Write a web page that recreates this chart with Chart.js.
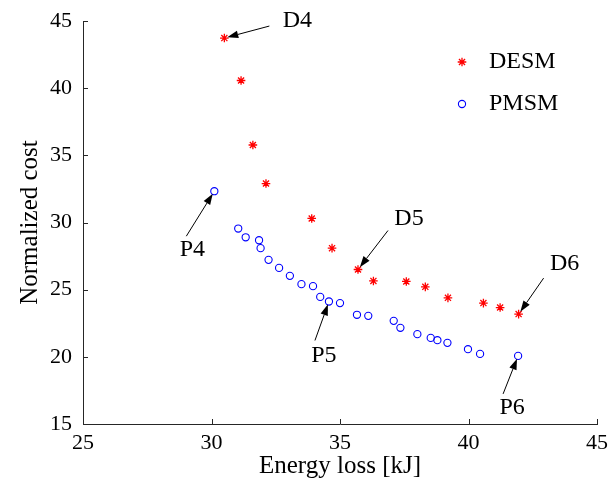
<!DOCTYPE html>
<html>
<head>
<meta charset="utf-8">
<script src="https://cdn.jsdelivr.net/npm/chart.js@4/dist/chart.umd.min.js"></script>
<style>
html,body{margin:0;padding:0;background:#fff;}
#wrap{width:613px;height:486px;}
</style>
</head>
<body>
<div id="wrap"><canvas id="c" width="613" height="486"></canvas></div>
<script>
// ---- data ----
const seriesNames = ['DESM', 'PMSM'];
const desmX = [30.50, 31.15, 31.61, 32.12, 33.90, 34.69, 35.70, 36.30, 37.58, 38.32, 39.20, 40.58, 41.23, 41.95];
const desmY = [43.73, 40.57, 35.77, 32.90, 30.30, 28.09, 26.50, 25.65, 25.61, 25.21, 24.39, 24.00, 23.67, 23.18];
const pmsmX = [30.11, 31.04, 31.33, 31.85, 31.91, 32.22, 32.63, 33.05, 33.50, 33.95, 34.23, 34.57, 35.00, 35.66, 36.10, 37.09, 37.35, 38.01, 38.53, 38.79, 39.18, 39.98, 40.45, 41.93];
const pmsmY = [32.33, 29.55, 28.90, 28.68, 28.09, 27.22, 26.62, 26.03, 25.41, 25.26, 24.46, 24.12, 24.00, 23.13, 23.05, 22.68, 22.16, 21.69, 21.41, 21.24, 21.04, 20.57, 20.22, 20.07];
const xTicks = [25, 30, 35, 40, 45];
const yTicks = [15, 20, 25, 30, 35, 40, 45];
const xTitle = 'Energy loss [kJ]';
const yTitle = 'Normalized cost';
// annotated points: label, series index, point index
const annLabels = ['D4', 'P4', 'D5', 'P5', 'D6', 'P6'];
const annSeries = [0, 1, 0, 1, 0, 1];
const annIndex  = [0, 0, 6, 11, 13, 23];

const FONT = "'Liberation Serif', 'Times New Roman', serif";
const AXIS_COLOR = '#262626';

function toPts(xs, ys) { return xs.map((x, i) => ({x: x, y: ys[i]})); }

// pixel offsets (layout only) for annotation text and arrow tails
const annLayout = {
  D4: {tx: 73, ty: -17, ax: 45, ay: -12},
  P4: {tx: -22, ty: 59, ax: -28, ay: 45},
  D5: {tx: 51, ty: -51, ax: 30, ay: -39},
  P5: {tx: -5, ty: 54, ax: -14, ay: 39},
  D6: {tx: 46, ty: -50, ax: 25, ay: -36},
  P6: {tx: -6, ty: 52, ax: -15, ay: 38}
};

const inwardTicks = {
  id: 'inwardTicks',
  afterDraw(chart) {
    const ctx = chart.ctx;
    const xs = chart.scales.x, ys = chart.scales.y;
    const ca = chart.chartArea;
    ctx.save();
    ctx.strokeStyle = AXIS_COLOR;
    ctx.lineWidth = 1;
    ctx.beginPath();
    xs.ticks.forEach(t => {
      const px = Math.round(xs.getPixelForValue(t.value)) + 0.5;
      ctx.moveTo(px, ca.bottom);
      ctx.lineTo(px, ca.bottom - 5);
    });
    ys.ticks.forEach(t => {
      const py = Math.round(ys.getPixelForValue(t.value)) + 0.5;
      ctx.moveTo(ca.left, py);
      ctx.lineTo(ca.left + 5, py);
    });
    ctx.stroke();
    ctx.restore();
  }
};

const annotations = {
  id: 'annotations',
  afterDraw(chart) {
    const ctx = chart.ctx;
    ctx.save();
    annLabels.forEach((lab, k) => {
      const el = chart.getDatasetMeta(annSeries[k]).data[annIndex[k]];
      const px = el.x, py = el.y;
      const L = annLayout[lab];
      const sx = px + L.ax, sy = py + L.ay;
      const dx = px - sx, dy = py - sy;
      const len = Math.hypot(dx, dy);
      const ux = dx / len, uy = dy / len;
      const tipX = px - ux * 3, tipY = py - uy * 3;
      const headLen = 11, headW = 3.8;
      const bx = tipX - ux * headLen, by = tipY - uy * headLen;
      ctx.strokeStyle = '#000';
      ctx.fillStyle = '#000';
      ctx.lineWidth = 1;
      ctx.beginPath();
      ctx.moveTo(sx, sy);
      ctx.lineTo(bx, by);
      ctx.stroke();
      ctx.beginPath();
      ctx.moveTo(tipX, tipY);
      ctx.lineTo(bx - uy * headW, by + ux * headW);
      ctx.lineTo(bx + uy * headW, by - ux * headW);
      ctx.closePath();
      ctx.fill();
      ctx.font = '24px ' + FONT;
      ctx.textAlign = 'center';
      ctx.textBaseline = 'middle';
      ctx.fillText(lab, px + L.tx, py + L.ty);
    });
    ctx.restore();
  }
};

const customLegend = {
  id: 'customLegend',
  afterDraw(chart) {
    const ctx = chart.ctx;
    ctx.save();
    chart.data.datasets.forEach((ds, i) => {
      const y = 62 + i * 42;
      ctx.strokeStyle = ds.borderColor;
      ctx.fillStyle = 'rgba(0,0,0,0)';
      ctx.lineWidth = ds.borderWidth;
      Chart.helpers.drawPoint(ctx, {pointStyle: ds.pointStyle, radius: ds.pointRadius, borderWidth: ds.borderWidth, rotation: 0}, 462, y);
      ctx.fillStyle = '#000';
      ctx.font = '24px ' + FONT;
      ctx.textAlign = 'left';
      ctx.textBaseline = 'middle';
      ctx.fillText(ds.label, 489, y);
    });
    ctx.restore();
  }
};

new Chart(document.getElementById('c'), {
  type: 'scatter',
  data: {
    datasets: [
      {label: seriesNames[0], data: toPts(desmX, desmY), pointStyle: 'star', pointRadius: 4.3,
       borderColor: '#ff0000', backgroundColor: '#ff0000', borderWidth: 1.3, showLine: false},
      {label: seriesNames[1], data: toPts(pmsmX, pmsmY), pointStyle: 'circle', pointRadius: 3.6,
       borderColor: '#0000ff', backgroundColor: 'rgba(0,0,0,0)', borderWidth: 1.1, showLine: false}
    ]
  },
  options: {
    responsive: false,
    animation: false,
    devicePixelRatio: 1,
    layout: {padding: {top: 21, right: 16, left: 0, bottom: 0}},
    plugins: {legend: {display: false}, tooltip: {enabled: false}},
    elements: {point: {hoverRadius: 4}},
    scales: {
      x: {
        type: 'linear', min: xTicks[0], max: xTicks[xTicks.length - 1],
        afterBuildTicks: s => { s.ticks = xTicks.map(v => ({value: v})); },
        afterFit: s => { s.height = 62; s.paddingLeft = 0; s.paddingRight = 0; },
        grid: {display: true, drawOnChartArea: false, drawTicks: false},
        border: {display: true, color: AXIS_COLOR, width: 1},
        ticks: {color: '#000', font: {family: FONT, size: 22}, padding: 6, maxRotation: 0},
        title: {display: true, text: xTitle, color: '#000', font: {family: FONT, size: 25}, padding: {top: 0, bottom: 5}}
      },
      y: {
        type: 'linear', min: yTicks[0], max: yTicks[yTicks.length - 1],
        afterBuildTicks: s => { s.ticks = yTicks.map(v => ({value: v})); },
        afterFit: s => { s.width = 83; s.paddingTop = 0; s.paddingBottom = 0; },
        grid: {display: true, drawOnChartArea: false, drawTicks: false},
        border: {display: true, color: AXIS_COLOR, width: 1},
        ticks: {color: '#000', font: {family: FONT, size: 22}, padding: 11},
        title: {display: true, text: yTitle, color: '#000', font: {family: FONT, size: 25}, padding: {top: 15, bottom: 0}}
      }
    }
  },
  plugins: [inwardTicks, annotations, customLegend]
});
</script>
</body>
</html>
